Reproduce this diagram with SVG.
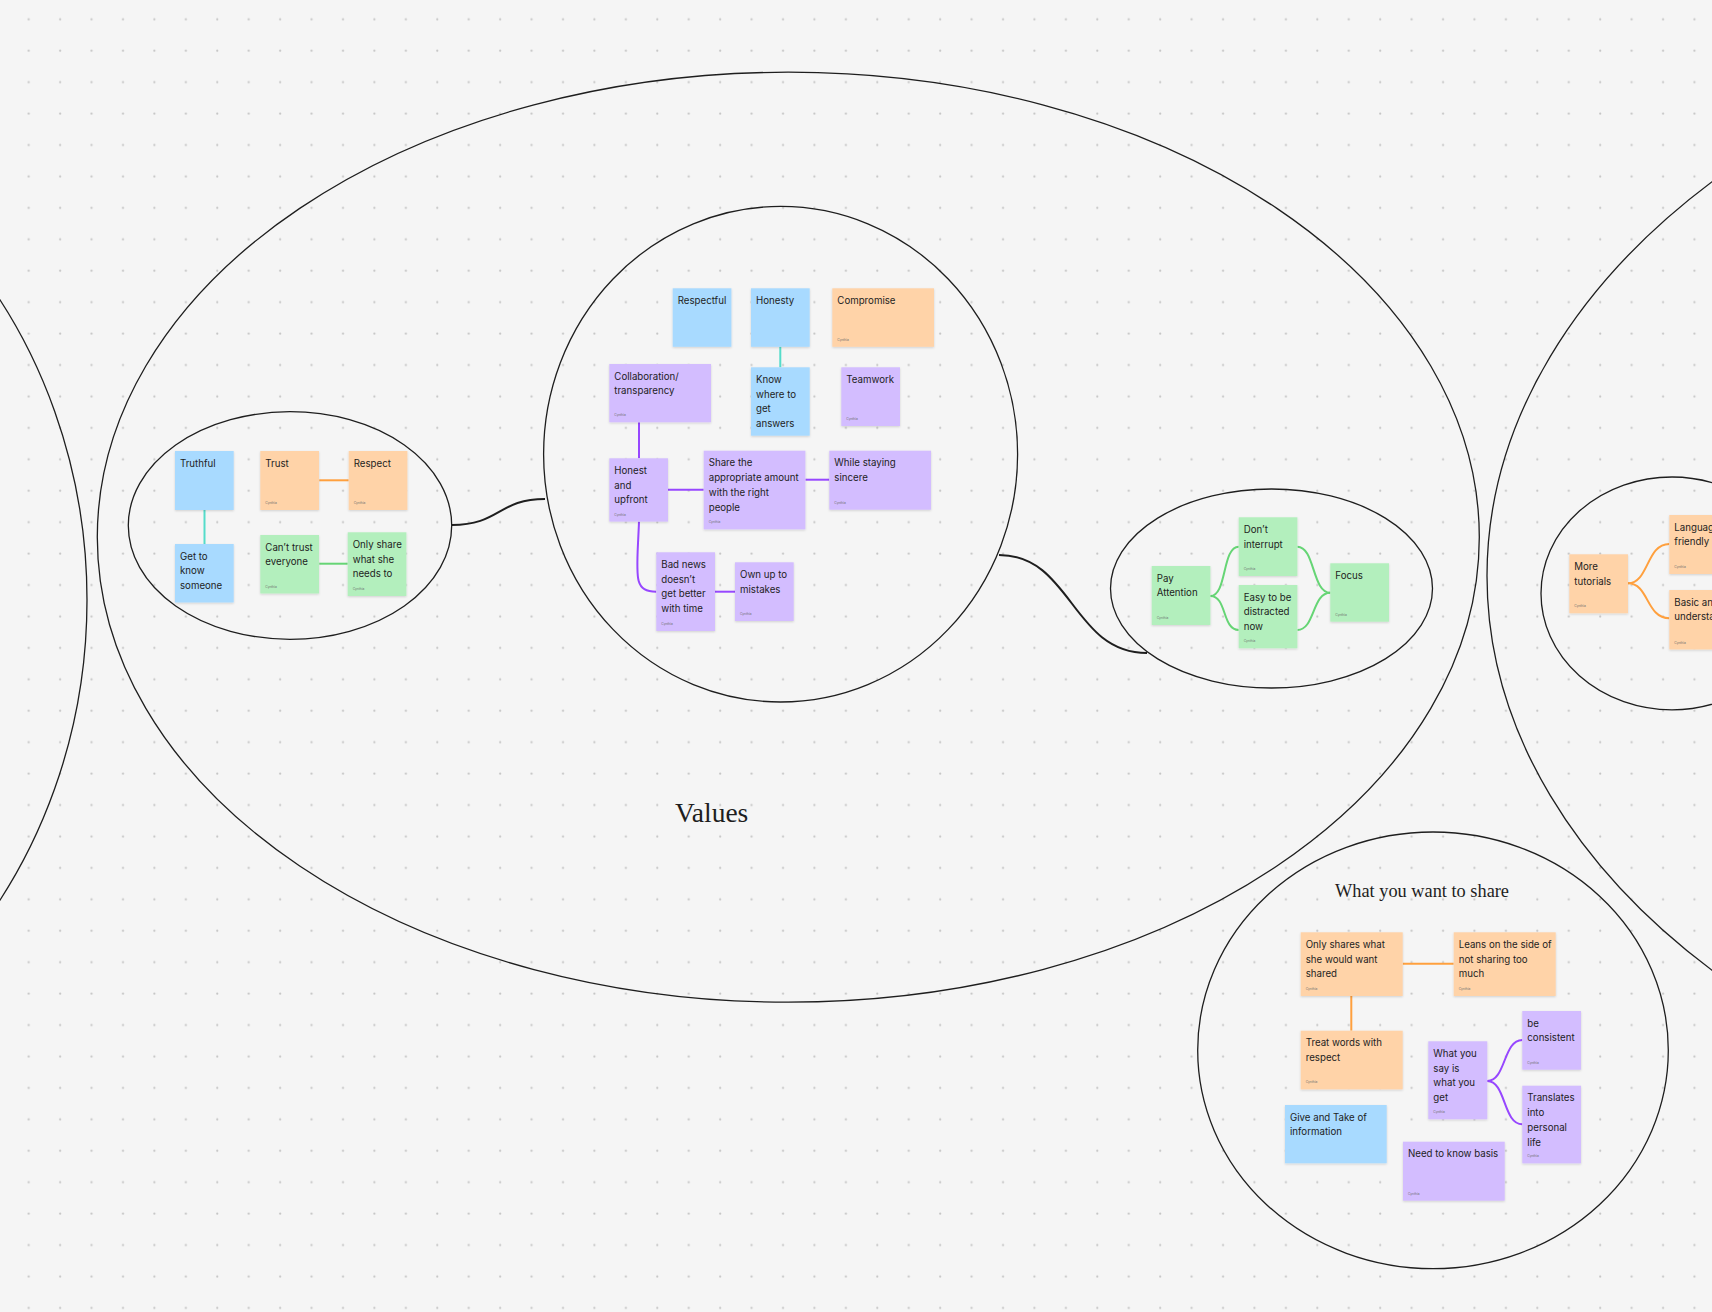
<svg xmlns="http://www.w3.org/2000/svg" width="1712" height="1312" viewBox="0 0 1712 1312">
<defs>
<pattern id="dots" patternUnits="userSpaceOnUse" x="0" y="0" width="31.43" height="31.43">
<circle cx="28.7" cy="19.3" r="1.1" fill="#c4c4c4"/>
</pattern>
<filter id="sh" x="-10%" y="-10%" width="120%" height="125%">
<feDropShadow dx="0" dy="1" stdDeviation="0.8" flood-color="#000" flood-opacity="0.15"/>
</filter>
<style>
.note{filter:url(#sh);}
.blue{fill:#a8daff;}
.orange{fill:#ffd3a8;}
.green{fill:#b3efbd;}
.purple{fill:#d3bdff;}
.t{font-family:Inter,"Noto Sans","Liberation Sans",sans-serif;font-size:9.7px;fill:#1e1e1e;}
.au{font-family:Inter,"Liberation Sans",sans-serif;font-size:3.2px;fill:#6f6f6f;}
.frame{fill:none;stroke:#1e1e1e;stroke-width:1.3;}
.link{fill:none;stroke:#1e1e1e;stroke-width:2;}
.c{fill:none;stroke-width:2;stroke-linecap:butt;}
.cteal{stroke:#55dcca;}
.corange{stroke:#ffa03e;}
.cgreen{stroke:#66d575;}
.cpurple{stroke:#9747ff;}
.title{font-family:"Liberation Serif","DejaVu Serif",serif;fill:#1e1e1e;}
</style>
</defs>
<rect width="1712" height="1312" fill="#f5f5f5"/>
<rect width="1712" height="1312" fill="url(#dots)"/>

<g id="frames">
<ellipse class="frame" cx="-374" cy="600" rx="461" ry="513"/>
<ellipse class="frame" cx="788.3" cy="537.2" rx="691" ry="465"/>
<ellipse class="frame" cx="2387" cy="576" rx="900" ry="596"/>
<ellipse class="frame" cx="290" cy="525.5" rx="161.7" ry="113.8"/>
<ellipse class="frame" cx="780.6" cy="454.2" rx="237" ry="247.8"/>
<ellipse class="frame" cx="1271.5" cy="588.5" rx="161" ry="99.5"/>
<ellipse class="frame" cx="1672" cy="593.4" rx="131" ry="116.4"/>
<ellipse class="frame" cx="1433" cy="1050.3" rx="235.3" ry="218.3"/>
<text class="title" x="675" y="821.7" font-size="26.5" textLength="73.3" lengthAdjust="spacingAndGlyphs">Values</text>
<text class="title" x="1335" y="896.7" font-size="19" textLength="174" lengthAdjust="spacingAndGlyphs">What you want to share</text>
</g>

<g id="connectors">
<path class="link" d="M452,525 C500,525 498,499 545,499"/>
<path class="link" d="M999,555 C1072,555 1072,653 1147,653"/>
<path class="c cteal" d="M204.5,510 V544"/>
<path class="c corange" d="M319.3,480.3 H348.7"/>
<path class="c cgreen" d="M319.3,563.7 H347.7"/>
<path class="c cteal" d="M780.3,346.8 V367.3"/>
<path class="c cpurple" d="M639,422.3 V458.3"/>
<path class="c cpurple" d="M668,489.7 H703.7"/>
<path class="c cpurple" d="M805.4,479.7 H829.3"/>
<path class="c cpurple" d="M639,521.6 C637,575 632,591.7 656.3,591.7"/>
<path class="c cpurple" d="M715,591.7 H735"/>
<path class="c cgreen" d="M1210.4,596 C1227,596 1222,546.7 1238.7,546.7"/>
<path class="c cgreen" d="M1210.4,596 C1227,596 1222,630 1238.7,630"/>
<path class="c cgreen" d="M1297.4,546.7 C1315,546.7 1312,592.7 1330.3,592.7"/>
<path class="c cgreen" d="M1297.4,630 C1315,630 1312,592.7 1330.3,592.7"/>
<path class="c corange" d="M1628,583.3 C1649,583.3 1646,544 1669.3,544"/>
<path class="c corange" d="M1628,583.3 C1649,583.3 1646,618.3 1669.3,618.3"/>
<path class="c corange" d="M1402.7,963.7 H1453.7"/>
<path class="c corange" d="M1351.3,996 V1030.7"/>
<path class="c cpurple" d="M1487.3,1081 C1506,1081 1503,1040 1522.3,1040"/>
<path class="c cpurple" d="M1487.3,1081 C1506,1081 1503,1124.3 1522.3,1124.3"/>
</g>

<g id="n-truthful" transform="translate(175,451)"><rect class="note blue" width="58.7" height="59"/><text class="t"><tspan x="5" y="15.5">Truthful</tspan></text></g>
<g id="n-trust" transform="translate(260.3,451)"><rect class="note orange" width="58.7" height="59"/><text class="t"><tspan x="5" y="15.5">Trust</tspan></text><text class="au" x="5" y="53">Cynthia</text></g>
<g id="n-respect" transform="translate(348.7,451)"><rect class="note orange" width="58.7" height="59"/><text class="t"><tspan x="5" y="15.5">Respect</tspan></text><text class="au" x="5" y="53">Cynthia</text></g>
<g id="n-get-to-know" transform="translate(175,544)"><rect class="note blue" width="58.7" height="58.5"/><text class="t"><tspan x="5" y="15.5">Get to</tspan><tspan x="5" y="30.3">know</tspan><tspan x="5" y="45.1">someone</tspan></text></g>
<g id="n-cant-trust" transform="translate(260.3,535)"><rect class="note green" width="58.7" height="58.5"/><text class="t"><tspan x="5" y="15.5">Can’t trust</tspan><tspan x="5" y="30.3">everyone</tspan></text><text class="au" x="5" y="52.5">Cynthia</text></g>
<g id="n-only-share" transform="translate(347.7,532.3)"><rect class="note green" width="58.7" height="63.7"/><text class="t"><tspan x="5" y="15.5">Only share</tspan><tspan x="5" y="30.3">what she</tspan><tspan x="5" y="45.1">needs to</tspan></text><text class="au" x="5" y="57.7">Cynthia</text></g>

<g id="n-respectful" transform="translate(672.7,288.3)"><rect class="note blue" width="58.7" height="58.5"/><text class="t"><tspan x="5" y="15.5">Respectful</tspan></text></g>
<g id="n-honesty" transform="translate(751,288.3)"><rect class="note blue" width="58.7" height="58.5"/><text class="t"><tspan x="5" y="15.5">Honesty</tspan></text></g>
<g id="n-compromise" transform="translate(832.3,288.3)"><rect class="note orange" width="101.7" height="58.5"/><text class="t"><tspan x="5" y="15.5">Compromise</tspan></text><text class="au" x="5" y="52.5">Cynthia</text></g>
<g id="n-collaboration" transform="translate(609.3,364)"><rect class="note purple" width="101.7" height="58.3"/><text class="t"><tspan x="5" y="15.5">Collaboration/</tspan><tspan x="5" y="30.3">transparency</tspan></text><text class="au" x="5" y="52.3">Cynthia</text></g>
<g id="n-know-where" transform="translate(751,367.3)"><rect class="note blue" width="58.7" height="68.4"/><text class="t"><tspan x="5" y="15.5">Know</tspan><tspan x="5" y="30.3">where to</tspan><tspan x="5" y="45.1">get</tspan><tspan x="5" y="59.9">answers</tspan></text></g>
<g id="n-teamwork" transform="translate(841.3,367.3)"><rect class="note purple" width="58.7" height="58.7"/><text class="t"><tspan x="5" y="15.5">Teamwork</tspan></text><text class="au" x="5" y="52.7">Cynthia</text></g>
<g id="n-honest-upfront" transform="translate(609.3,458.3)"><rect class="note purple" width="58.7" height="63.3"/><text class="t"><tspan x="5" y="15.5">Honest</tspan><tspan x="5" y="30.3">and</tspan><tspan x="5" y="45.1">upfront</tspan></text><text class="au" x="5" y="57.3">Cynthia</text></g>
<g id="n-share-appropriate" transform="translate(703.7,450.7)"><rect class="note purple" width="101.7" height="78.7"/><text class="t"><tspan x="5" y="15.5">Share the</tspan><tspan x="5" y="30.3">appropriate amount</tspan><tspan x="5" y="45.1">with the right</tspan><tspan x="5" y="59.9">people</tspan></text><text class="au" x="5" y="72.7">Cynthia</text></g>
<g id="n-while-sincere" transform="translate(829.3,450.7)"><rect class="note purple" width="101.7" height="59"/><text class="t"><tspan x="5" y="15.5">While staying</tspan><tspan x="5" y="30.3">sincere</tspan></text><text class="au" x="5" y="53">Cynthia</text></g>
<g id="n-bad-news" transform="translate(656.3,552.3)"><rect class="note purple" width="58.7" height="78.7"/><text class="t"><tspan x="5" y="15.5">Bad news</tspan><tspan x="5" y="30.3">doesn’t</tspan><tspan x="5" y="45.1">get better</tspan><tspan x="5" y="59.9">with time</tspan></text><text class="au" x="5" y="72.7">Cynthia</text></g>
<g id="n-own-up" transform="translate(735,562.3)"><rect class="note purple" width="58.7" height="58.7"/><text class="t"><tspan x="5" y="15.5">Own up to</tspan><tspan x="5" y="30.3">mistakes</tspan></text><text class="au" x="5" y="52.7">Cynthia</text></g>

<g id="n-pay-attention" transform="translate(1151.7,566)"><rect class="note green" width="58.7" height="59"/><text class="t"><tspan x="5" y="15.5">Pay</tspan><tspan x="5" y="30.3">Attention</tspan></text><text class="au" x="5" y="53">Cynthia</text></g>
<g id="n-dont-interrupt" transform="translate(1238.7,517.3)"><rect class="note green" width="58.7" height="58.7"/><text class="t"><tspan x="5" y="15.5">Don’t</tspan><tspan x="5" y="30.3">interrupt</tspan></text><text class="au" x="5" y="52.7">Cynthia</text></g>
<g id="n-easy-distracted" transform="translate(1238.7,585)"><rect class="note green" width="58.7" height="63.3"/><text class="t"><tspan x="5" y="15.5">Easy to be</tspan><tspan x="5" y="30.3">distracted</tspan><tspan x="5" y="45.1">now</tspan></text><text class="au" x="5" y="57.3">Cynthia</text></g>
<g id="n-focus" transform="translate(1330.3,563.3)"><rect class="note green" width="58.7" height="58.4"/><text class="t"><tspan x="5" y="15.5">Focus</tspan></text><text class="au" x="5" y="52.4">Cynthia</text></g>

<g id="n-more-tutorials" transform="translate(1569.3,554.3)"><rect class="note orange" width="58.7" height="59"/><text class="t"><tspan x="5" y="15.5">More</tspan><tspan x="5" y="30.3">tutorials</tspan></text><text class="au" x="5" y="53">Cynthia</text></g>
<g id="n-language-friendly" transform="translate(1669.3,515)"><rect class="note orange" width="58.7" height="59"/><text class="t"><tspan x="5" y="15.5">Language</tspan><tspan x="5" y="30.3">friendly</tspan></text><text class="au" x="5" y="53">Cynthia</text></g>
<g id="n-basic" transform="translate(1669.3,590)"><rect class="note orange" width="58.7" height="59.5"/><text class="t"><tspan x="5" y="15.5">Basic and</tspan><tspan x="5" y="30.3">understanding</tspan></text><text class="au" x="5" y="53.5">Cynthia</text></g>

<g id="n-only-shares" transform="translate(1300.7,932.3)"><rect class="note orange" width="102" height="63.7"/><text class="t"><tspan x="5" y="15.5">Only shares what</tspan><tspan x="5" y="30.3">she would want</tspan><tspan x="5" y="45.1">shared</tspan></text><text class="au" x="5" y="57.7">Cynthia</text></g>
<g id="n-leans" transform="translate(1453.7,932.3)"><rect class="note orange" width="102" height="63.7"/><text class="t"><tspan x="5" y="15.5">Leans on the side of</tspan><tspan x="5" y="30.3">not sharing too</tspan><tspan x="5" y="45.1">much</tspan></text><text class="au" x="5" y="57.7">Cynthia</text></g>
<g id="n-treat-words" transform="translate(1300.7,1030.7)"><rect class="note orange" width="102" height="58.7"/><text class="t"><tspan x="5" y="15.5">Treat words with</tspan><tspan x="5" y="30.3">respect</tspan></text><text class="au" x="5" y="52.7">Cynthia</text></g>
<g id="n-what-you-say" transform="translate(1428.3,1041.3)"><rect class="note purple" width="59" height="78"/><text class="t"><tspan x="5" y="15.5">What you</tspan><tspan x="5" y="30.3">say is</tspan><tspan x="5" y="45.1">what you</tspan><tspan x="5" y="59.9">get</tspan></text><text class="au" x="5" y="72">Cynthia</text></g>
<g id="n-be-consistent" transform="translate(1522.3,1011)"><rect class="note purple" width="58.7" height="58.7"/><text class="t"><tspan x="5" y="15.5">be</tspan><tspan x="5" y="30.3">consistent</tspan></text><text class="au" x="5" y="52.7">Cynthia</text></g>
<g id="n-translates" transform="translate(1522.3,1085.7)"><rect class="note purple" width="58.7" height="77.7"/><text class="t"><tspan x="5" y="15.5">Translates</tspan><tspan x="5" y="30.3">into</tspan><tspan x="5" y="45.1">personal</tspan><tspan x="5" y="59.9">life</tspan></text><text class="au" x="5" y="71.7">Cynthia</text></g>
<g id="n-give-take" transform="translate(1285,1105)"><rect class="note blue" width="101.7" height="58.3"/><text class="t"><tspan x="5" y="15.5">Give and Take of</tspan><tspan x="5" y="30.3">information</tspan></text></g>
<g id="n-need-to-know" transform="translate(1403,1141.7)"><rect class="note purple" width="101.7" height="59"/><text class="t"><tspan x="5" y="15.5">Need to know basis</tspan></text><text class="au" x="5" y="53">Cynthia</text></g>
</svg>
